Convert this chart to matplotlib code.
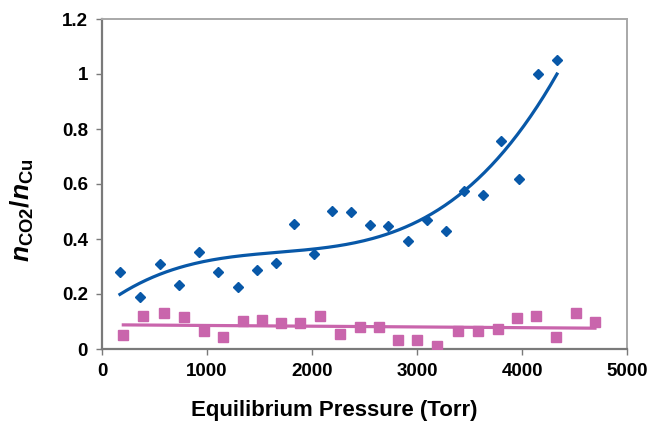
import numpy as np
import matplotlib
matplotlib.use("Agg")
import matplotlib.pyplot as plt

# Data
co2_x = [171, 360, 552, 735, 926, 1107, 1297, 1478, 1655, 1833, 2015, 2188, 2371,
         2552, 2728, 2910, 3093, 3274, 3448, 3629, 3800, 3971, 4150, 4333]
co2_y = [0.281, 0.19, 0.309, 0.232, 0.352, 0.279, 0.225, 0.286, 0.311, 0.456, 0.347, 0.502, 0.497,
         0.451, 0.447, 0.394, 0.469, 0.428, 0.576, 0.560, 0.756, 0.620, 1.000, 1.050]

cu_x = [203, 394, 590, 781, 968, 1156, 1340, 1524, 1702, 1886, 2079, 2270, 2457,
        2638, 2816, 3003, 3190, 3387, 3581, 3768, 3952, 4133, 4321, 4511, 4695]
cu_y = [0.052, 0.121, 0.131, 0.116, 0.065, 0.045, 0.102, 0.104, 0.093, 0.094, 0.119, 0.053, 0.080,
        0.079, 0.034, 0.032, 0.012, 0.065, 0.064, 0.074, 0.114, 0.121, 0.044, 0.130, 0.098]

x_ticks = [0, 1000, 2000, 3000, 4000, 5000]
y_ticks = [0, 0.2, 0.4, 0.6, 0.8, 1.0, 1.2]
y_tick_labels = ["0", "0.2", "0.4", "0.6", "0.8", "1", "1.2"]

blue = "#0858A8"
pink = "#C965AC"

plt.rcParams['font.family'] = ['Liberation Sans', 'DejaVu Sans']
plt.rcParams['mathtext.fontset'] = 'custom'
plt.rcParams['mathtext.it'] = 'Liberation Sans:bold:italic'
plt.rcParams['mathtext.rm'] = 'Liberation Sans:bold'
plt.rcParams['mathtext.bf'] = 'Liberation Sans:bold'

fig = plt.figure(figsize=(6.5, 4.37), dpi=100)
ax = fig.add_axes([102/650, 1-349/437, (627-102)/650, (349-19)/437])

# trendlines
bx = np.linspace(min(co2_x), max(co2_x), 200)
bp = np.polyfit(co2_x, co2_y, 3)
ax.plot(bx, np.polyval(bp, bx), color=blue, lw=2.3, zorder=2)
px = np.linspace(min(cu_x), max(cu_x), 50)
pp = np.polyfit(cu_x, cu_y, 1)
ax.plot(px, np.polyval(pp, px), color=pink, lw=2.3, zorder=2)

ax.plot(co2_x, co2_y, linestyle='none', marker='D', ms=5.6, color=blue, mec=blue, zorder=3)
ax.plot(cu_x, cu_y, linestyle='none', marker='s', ms=7, color=pink, mec=pink, zorder=3)

ax.set_xlim(0, 5000)
ax.set_ylim(0, 1.2)
ax.set_xticks(x_ticks)
ax.set_xticklabels([str(t) for t in x_ticks])
ax.set_yticks(y_ticks)
ax.set_yticklabels(y_tick_labels)

for s in ['left', 'bottom']:
    ax.spines[s].set_color('#7a7a7a')
    ax.spines[s].set_linewidth(1.6)
for s in ['top', 'right']:
    ax.spines[s].set_color('#a8a8a8')
    ax.spines[s].set_linewidth(1.4)

ax.tick_params(direction='out', length=4, width=1.0, color='#7a7a7a',
               labelsize=13.5, pad=6)
for lab in ax.get_xticklabels() + ax.get_yticklabels():
    lab.set_fontweight('bold')

ax.set_xlabel("Equilibrium Pressure (Torr)", fontsize=16, fontweight='bold')
ax.xaxis.set_label_coords(0.442, -0.155)
ax.set_ylabel(r"$\mathit{n}_{\mathrm{CO2}}/\mathit{n}_{\mathrm{Cu}}$", fontsize=19)
ax.yaxis.set_label_coords(-0.125, 0.42)

fig.savefig("out.png", dpi=100)
